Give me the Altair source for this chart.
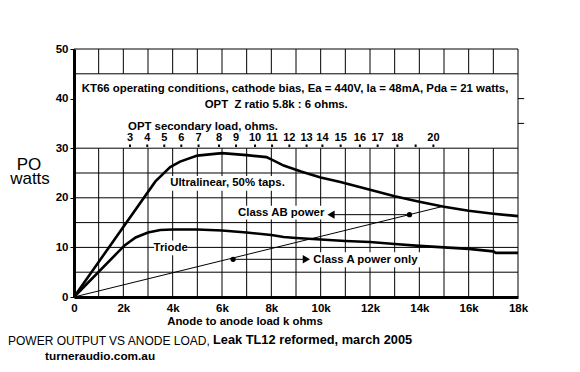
import altair as alt
import pandas as pd

# ---------------- data ----------------
ul_x = [0, 3.3, 3.9, 4.3, 5, 6, 7, 7.8, 8.1, 8.5, 9.2, 10, 10.8, 12, 13, 14, 15, 16, 17, 18]
ul_y = [0, 23.3, 26.2, 27.3, 28.5, 29.0, 28.6, 28.2, 27.5, 26.5, 25.3, 24.1, 23.2, 21.6, 20.3, 19.2, 18.2, 17.4, 16.8, 16.3]

tri_x = [0, 2.05, 2.5, 3, 3.5, 4, 5, 6, 7, 8, 8.5, 9, 10, 11, 12, 13, 14, 15, 16, 17, 17.1, 18]
tri_y = [0, 10.4, 12.0, 13.0, 13.5, 13.6, 13.6, 13.4, 13.0, 12.5, 12.1, 11.9, 11.6, 11.3, 11.1, 10.7, 10.3, 10.0, 9.7, 9.2, 8.9, 8.9]

load_x = [0, 14.9]
load_y = [0, 18.2]

dot_x = [6.45, 13.6]
dot_y = [7.6, 16.6]

# top "OPT secondary load" scale: ohm labels and their anode-load positions (k)
ohm_labels = ["3", "4", "5", "6", "7", "8", "9", "10", "11", "12", "13", "14", "15", "16", "17", "18", "", "20"]
ohm_pos = [2.27, 2.97, 3.66, 4.35, 5.05, 5.88, 6.57, 7.34, 8.03, 8.73, 9.43, 10.07, 10.81, 11.59, 12.31, 13.11, 13.85, 14.57]

x_grid = list(range(0, 19))
y_grid_full = [0, 5, 10, 15, 20, 25, 30, 45, 50]
x_label_vals = [0, 2, 4, 6, 8, 10, 12, 14, 16, 18]
y_label_vals = [0, 5, 10, 15, 20, 25, 30, 35, 40, 45, 50]

BOLD = "Liberation Sans"
REG = "Liberation Sans"
TS = 11.4  # in-plot annotation text size

xs = alt.Scale(domain=[0, 18], nice=False, zero=False)
ys = alt.Scale(domain=[0, 50], nice=False, zero=False)

# ---------------- grid ----------------
vseg = pd.DataFrame(
    [{"x": g, "y": 0, "y2": 30} for g in x_grid] + [{"x": g, "y": 45, "y2": 50} for g in x_grid]
    + [{"x": 18, "y": 30, "y2": 45}]
)
hseg = pd.DataFrame([{"y": g, "x": 0, "x2": 18} for g in y_grid_full]
                    + [{"y": g, "x": 18, "x2": 18.25} for g in [35, 40]])

vgrid = alt.Chart(vseg).mark_rule(color="black", strokeWidth=1).encode(
    x=alt.X("x:Q", scale=xs,
            axis=alt.Axis(values=x_label_vals, ticks=False, grid=False, domainWidth=3, domainColor="black",
                          labelExpr="datum.value == 0 ? '0' : datum.value + 'k'", labelFont=BOLD,
                          labelFontWeight="bold", labelFontSize=11.5, labelColor="black", labelPadding=5,
                          title=None, zindex=1, labelFlush=False)),
    y=alt.Y("y:Q", scale=ys,
            axis=alt.Axis(values=y_label_vals, tickSize=4, tickColor="black", grid=False, domainWidth=3,
                          domainColor="black", labelFont=BOLD, labelFontWeight="bold", labelFontSize=11.5,
                          labelColor="black", labelPadding=2, title=None, zindex=1, labelFlush=False)),
    y2="y2:Q",
)
hgrid = alt.Chart(hseg).mark_rule(color="black", strokeWidth=1).encode(
    x=alt.X("x:Q", scale=xs), x2="x2:Q", y=alt.Y("y:Q", scale=ys)
)

# ---------------- white label backgrounds ----------------
boxes = pd.DataFrame([
    {"x": 3.25, "x2": 4.6, "y": 8.4, "y2": 11.4},       # Triode
    {"x": 3.75, "x2": 8.65, "y": 21.4, "y2": 24.4},     # Ultralinear
    {"x": 6.5, "x2": 10.25, "y": 15.6, "y2": 18.4},     # Class AB
    {"x": 9.6, "x2": 14.15, "y": 6.0, "y2": 9.0},       # Class A
])
bg = alt.Chart(boxes).mark_rect(color="white").encode(
    x=alt.X("x:Q", scale=xs), x2="x2:Q", y=alt.Y("y:Q", scale=ys), y2="y2:Q"
)

# ---------------- curves ----------------
curves = pd.concat([
    pd.DataFrame({"x": ul_x, "y": ul_y, "s": "Ultralinear", "o": range(len(ul_x))}),
    pd.DataFrame({"x": tri_x, "y": tri_y, "s": "Triode", "o": range(len(tri_x))}),
])
curve_layer = alt.Chart(curves).mark_line(color="black", strokeWidth=2.6).encode(
    x=alt.X("x:Q", scale=xs), y=alt.Y("y:Q", scale=ys), detail="s:N", order="o:Q"
)

load = alt.Chart(pd.DataFrame({"x": load_x, "y": load_y})).mark_line(color="black", strokeWidth=1).encode(
    x=alt.X("x:Q", scale=xs), y=alt.Y("y:Q", scale=ys)
)

dots = alt.Chart(pd.DataFrame({"x": dot_x, "y": dot_y})).mark_circle(color="black", opacity=1, size=28).encode(
    x=alt.X("x:Q", scale=xs), y=alt.Y("y:Q", scale=ys)
)

# arrow shafts
shafts = alt.Chart(pd.DataFrame([
    {"x": dot_x[0], "x2": 9.4, "y": dot_y[0]},
    {"x": 10.45, "x2": dot_x[1], "y": dot_y[1]},
])).mark_rule(color="black", strokeWidth=1).encode(
    x=alt.X("x:Q", scale=xs), x2="x2:Q", y=alt.Y("y:Q", scale=ys)
)
heads = alt.Chart(pd.DataFrame([
    {"x": 9.42, "y": dot_y[0], "shape": "triangle-right"},
    {"x": 10.42, "y": dot_y[1], "shape": "triangle-left"},
])).mark_point(color="black", filled=True, opacity=1, size=70).encode(
    x=alt.X("x:Q", scale=xs), y=alt.Y("y:Q", scale=ys),
    shape=alt.Shape("shape:N", scale=None)
)

# top scale ticks
otick = alt.Chart(pd.DataFrame({"x": ohm_pos, "y": [30.25] * len(ohm_pos), "y2": [30.75] * len(ohm_pos)})).mark_rule(
    color="black", strokeWidth=2).encode(x=alt.X("x:Q", scale=xs), y=alt.Y("y:Q", scale=ys), y2="y2:Q")
olab = alt.Chart(pd.DataFrame({"x": ohm_pos, "y": [32.0] * len(ohm_pos), "t": ohm_labels})).mark_text(
    font=BOLD, fontWeight="bold", fontSize=11, color="black", baseline="middle", align="center").encode(
    x=alt.X("x:Q", scale=xs), y=alt.Y("y:Q", scale=ys), text="t:N")

# in-plot texts
def txt(df, align, size=TS):
    return alt.Chart(pd.DataFrame(df)).mark_text(
        font=BOLD, fontWeight="bold", fontSize=size, color="black", baseline="middle", align=align
    ).encode(x=alt.X("x:Q", scale=xs), y=alt.Y("y:Q", scale=ys), text="t:N")

center_txt = txt([
    {"x": 8.96, "y": 41.9, "t": "KT66 operating conditions, cathode bias, Ea = 440V, Ia = 48mA, Pda = 21 watts,"},
    {"x": 8.2, "y": 38.7, "t": "OPT\u00a0 Z ratio 5.8k : 6 ohms."},
    {"x": 3.92, "y": 9.9, "t": "Triode"},
], "center")
left_txt = txt([
    {"x": 2.19, "y": 34.3, "t": "OPT secondary load, ohms."},
    {"x": 3.9, "y": 22.9, "t": "Ultralinear, 50% taps."},
    {"x": 9.7, "y": 7.5, "t": "Class A power only"},
], "left")
right_txt = txt([
    {"x": 10.15, "y": 17.0, "t": "Class AB power"},
], "right")

# outside texts (pixel positions relative to plot area)
def ptxt(t, x, y, font, size, weight, align="left", baseline="middle"):
    return alt.Chart(pd.DataFrame({"t": [t]})).mark_text(
        font=font, fontSize=size, fontWeight=weight, color="black", align=align, baseline=baseline
    ).encode(x=alt.value(x), y=alt.value(y), text="t:N")

outside = [
    ptxt("PO", 29 - 74, 169.5 - 49, REG, 17, "normal", "center", "alphabetic"),
    ptxt("watts", 30 - 74, 184 - 49, REG, 17, "normal", "center", "alphabetic"),
    ptxt("Anode to anode load k ohms", 245 - 74, 322 - 49, BOLD, 11.4, "bold", "center"),
    ptxt("POWER OUTPUT VS ANODE LOAD,", 8 - 74, 345 - 49, REG, 12, "normal", "left", "alphabetic"),
    ptxt("Leak TL12 reformed, march 2005", 213 - 74, 340 - 49, BOLD, 12.8, "bold"),
    ptxt("turneraudio.com.au", 45 - 74, 356 - 49, BOLD, 11.8, "bold"),
]

chart = alt.layer(
    vgrid, hgrid, bg, load, curve_layer, dots, shafts, heads, otick, olab,
    center_txt, left_txt, right_txt, *outside
).properties(
    width=444, height=248,
    padding={"left": 66, "top": 41, "right": 54, "bottom": 67},
    autosize=alt.AutoSizeParams(type="none"),
    background="white",
).configure_view(stroke=None)

chart.save("out.html", embed_options={"renderer": "svg", "actions": False})
